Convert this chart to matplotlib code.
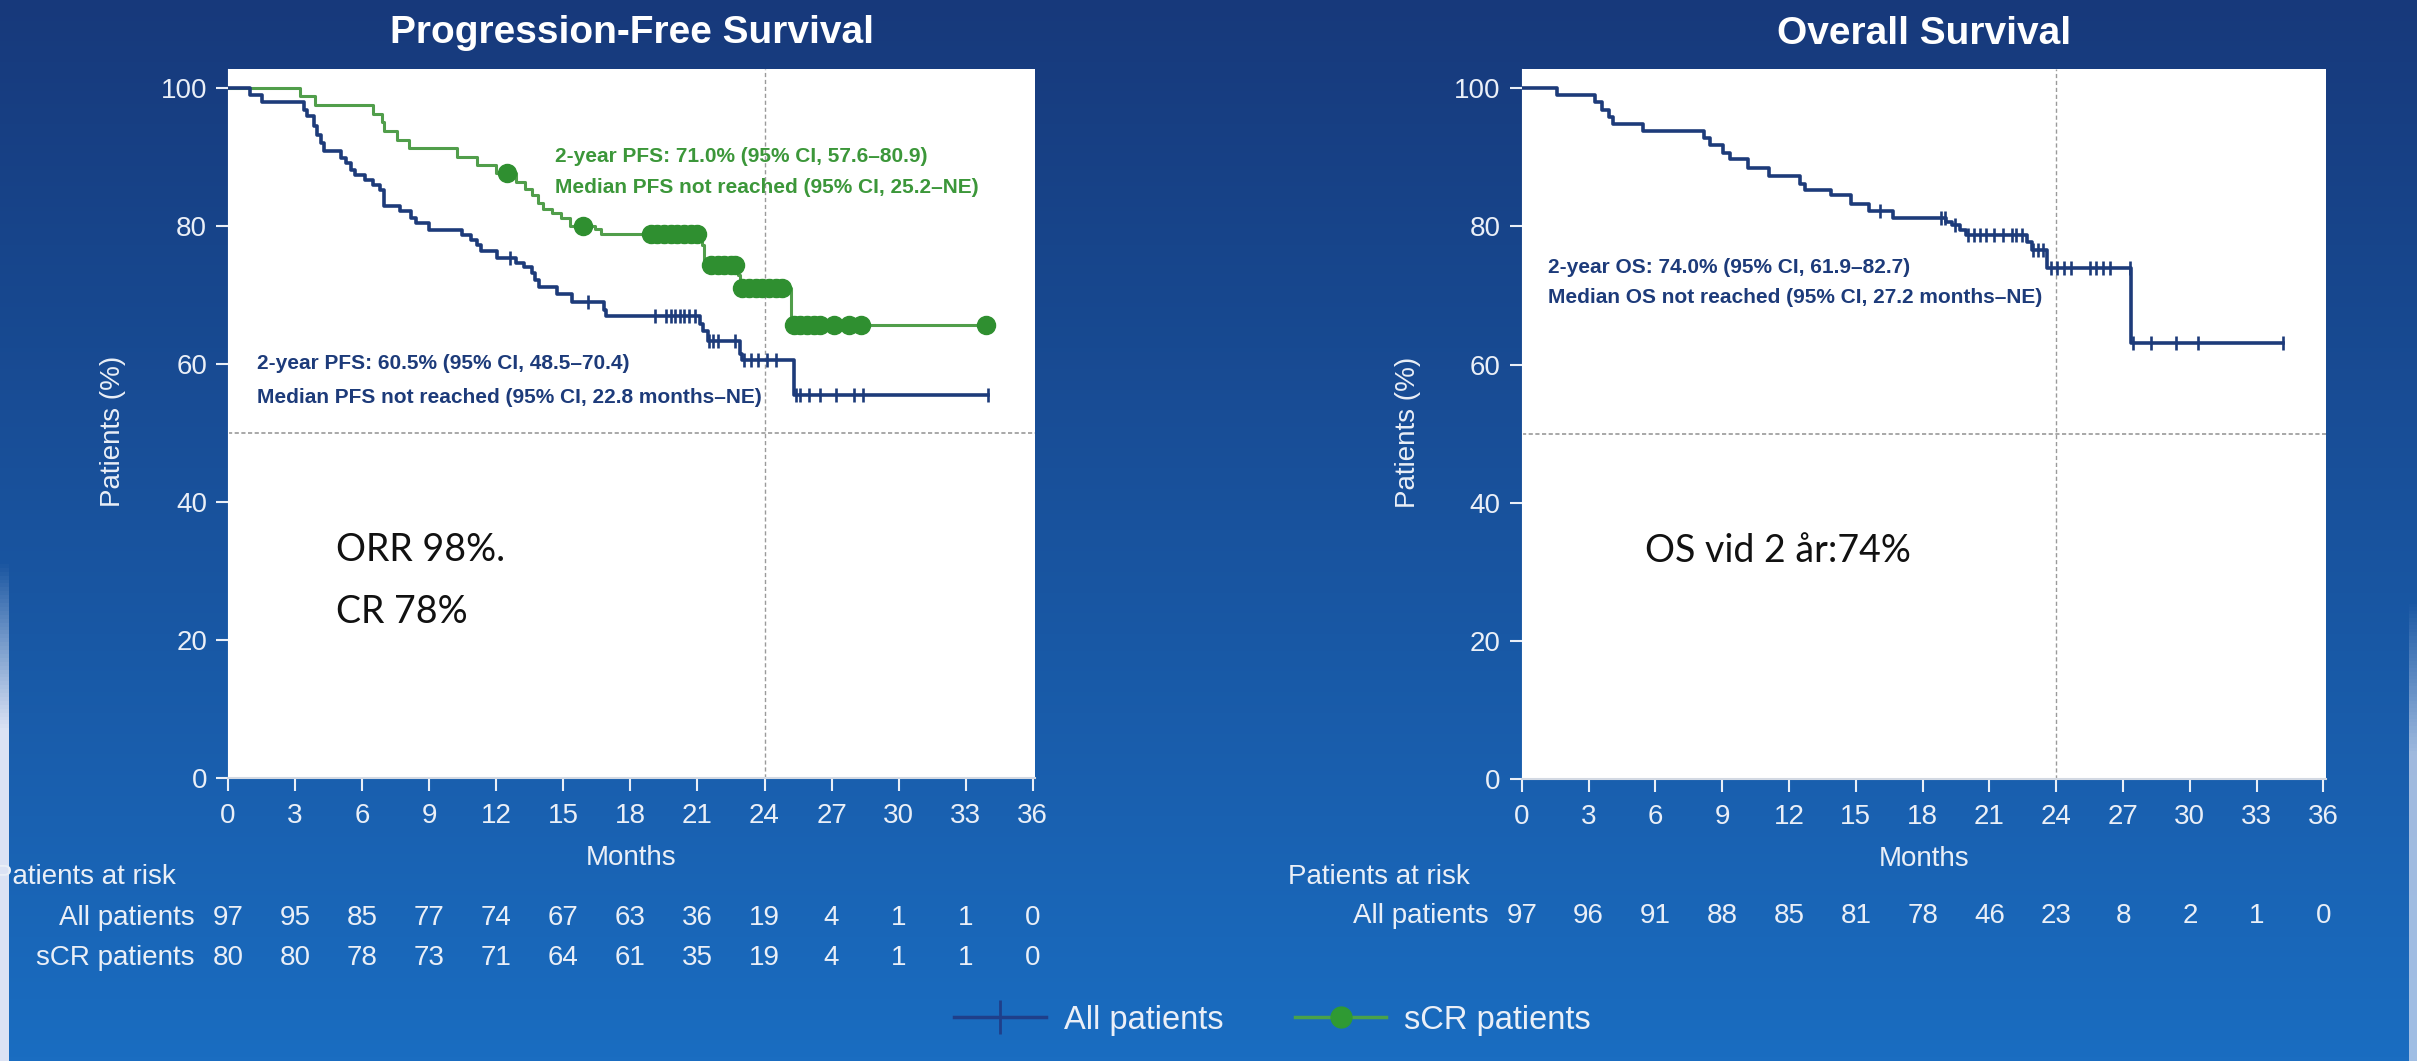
import numpy as np
import matplotlib
matplotlib.use("Agg")
import matplotlib.pyplot as plt
import matplotlib.transforms as mtransforms
from matplotlib.lines import Line2D

plt.rcParams['font.family'] = ['Liberation Sans', 'DejaVu Sans']

# ---- data ----
months_ticks = [0, 3, 6, 9, 12, 15, 18, 21, 24, 27, 30, 33, 36]
pct_ticks = [0, 20, 40, 60, 80, 100]

# PFS, all patients (step times in months, survival %)
pfs_all_t = [0, 1.0, 1.5, 3.4, 3.55, 3.85, 4.0, 4.15, 4.3, 5.05, 5.3, 5.5, 5.7, 6.15,
             6.5, 6.8, 7.0, 7.7, 8.2, 8.4, 9.0, 10.45, 10.85, 11.15, 11.3, 12.05, 12.9,
             13.25, 13.6, 13.75, 13.9, 14.7, 15.4, 16.8, 16.9, 21.1, 21.25, 21.45, 22.9,
             23.0, 25.3]
pfs_all_s = [100, 99.0, 97.9, 96.8, 95.9, 94.4, 93.2, 92.0, 90.8, 89.8, 89.1, 88.1, 87.4,
             86.7, 85.9, 85.2, 82.9, 82.2, 81.2, 80.4, 79.4, 78.7, 78.0, 77.2, 76.4, 75.4,
             74.6, 74.1, 73.1, 72.2, 71.2, 70.1, 69.0, 67.8, 66.9, 65.8, 64.7, 63.3, 61.5,
             60.5, 55.5]
pfs_all_end = 34.0
pfs_all_cens = [12.6, 16.1, 19.1, 19.6, 19.8, 20.0, 20.2, 20.4, 20.6, 20.9, 21.5, 21.7,
                21.9, 22.7, 23.1, 23.4, 23.7, 24.1, 24.5, 25.4, 25.6, 26.0, 26.5, 27.2,
                28.0, 28.4, 34.0]

# PFS, sCR patients
pfs_scr_t = [0, 3.2, 3.9, 6.5, 6.9, 7.0, 7.55, 8.1, 10.25, 11.15, 12.0, 12.9, 13.3, 13.6,
             13.85, 14.1, 14.5, 14.9, 15.3, 16.4, 16.7, 21.2, 21.3, 22.8, 22.9, 25.2]
pfs_scr_s = [100, 98.75, 97.5, 96.25, 95.0, 93.75, 92.5, 91.25, 90.0, 88.75, 87.6, 86.4,
             85.3, 84.5, 83.3, 82.4, 81.8, 81.2, 80.0, 79.5, 78.8, 77.2, 74.3, 72.9, 71.0,
             65.7]
pfs_scr_end = 33.9
pfs_scr_cens = [12.5, 15.9, 18.9, 19.2, 19.5, 19.8, 20.1, 20.4, 20.7, 21.0, 21.6, 21.9,
                22.2, 22.5, 22.7, 23.0, 23.3, 23.6, 23.9, 24.2, 24.5, 24.8, 25.3, 25.6,
                25.9, 26.2, 26.5, 27.1, 27.8, 28.3, 33.9]

# OS, all patients
os_t = [0, 1.57, 3.3, 3.6, 3.9, 4.1, 5.46, 8.2, 8.45, 9.05, 9.35, 10.15, 11.1, 12.5, 12.7,
        13.9, 14.8, 15.6, 16.67, 19.07, 19.3, 19.66, 19.95, 22.7, 22.9, 23.6, 27.37]
os_s = [100, 99.0, 98.0, 96.9, 95.9, 94.8, 93.8, 92.8, 91.8, 90.7, 89.8, 88.5, 87.3, 86.1,
        85.3, 84.5, 83.2, 82.2, 81.2, 80.7, 80.2, 79.5, 78.8, 77.8, 76.6, 74.0, 63.2]
os_end = 34.17
os_cens = [16.1, 18.84, 18.99, 19.44, 20.04, 20.3, 20.6, 20.85, 21.2, 21.6, 22.0, 22.2,
           22.45, 22.95, 23.2, 23.4, 23.75, 24.05, 24.35, 24.65, 25.5, 25.8, 26.1, 26.4,
           27.3, 27.44, 28.26, 29.39, 30.35, 34.17]

# patients at risk
risk_pfs_all = [97, 95, 85, 77, 74, 67, 63, 36, 19, 4, 1, 1, 0]
risk_pfs_scr = [80, 80, 78, 73, 71, 64, 61, 35, 19, 4, 1, 1, 0]
risk_os_all = [97, 96, 91, 88, 85, 81, 78, 46, 23, 8, 2, 1, 0]

BLUE = '#1d3b7a'
GREEN_LINE = '#519e4b'
GREEN_DOT = '#2f8f30'
TXT = '#eaeff7'

W, H = 2417, 1061
fig = plt.figure(figsize=(W / 100, H / 100), dpi=100)

# background gradient
bg = fig.add_axes([0, 0, 1, 1], zorder=-10)
grad = np.linspace(0, 1, 256)[:, None]
top = np.array([0x17, 0x39, 0x7b]) / 255
bot = np.array([0x1a, 0x6d, 0xc1]) / 255
img = top[None, None, :] * (1 - grad[:, :, None]) + bot[None, None, :] * grad[:, :, None]
bg.imshow(img, aspect='auto', extent=[0, W, H, 0])
# pale strips at the slide edges
strip = np.linspace(0, 1, 128)[:, None]
pale = np.ones((128, 1, 4))
pale[..., 0] = 0.86
pale[..., 1] = 0.89
pale[..., 2] = 0.96
pale[..., 3] = np.clip(strip * 3, 0, 1)
bg.imshow(pale, aspect='auto', extent=[0, 9, H, 560])
bg.imshow(pale * np.array([1, 1, 1, 0.7]), aspect='auto', extent=[W - 8, W, H, 600])
bg.set_xlim(0, W)
bg.set_ylim(H, 0)
bg.axis('off')


def km(ax, t, s, end, cens, color, lw, marker, ms, mfc, mew):
    tt = list(t) + [end]
    ss = list(s) + [s[-1]]
    ax.step(tt, ss, where='post', color=color, lw=lw, zorder=3)
    idx = np.searchsorted(t, cens, side='right') - 1
    cy = np.array(s)[idx]
    ax.plot(cens, cy, linestyle='none', marker=marker, ms=ms, mfc=mfc, mec=mfc,
            mew=mew, zorder=4)


def style(ax, title):
    ax.set_facecolor('white')
    ax.set_xlim(0, 36.1)
    ax.set_ylim(0, 102.8)
    ax.set_xticks(months_ticks)
    ax.set_yticks(pct_ticks)
    ax.tick_params(colors=TXT, labelsize=20, length=9, width=1.5, pad=6)
    ax.tick_params(axis='x', pad=9)
    for sp in ['top', 'right']:
        ax.spines[sp].set_visible(False)
    ax.spines['left'].set_color('white')
    ax.spines['bottom'].set_color('#d3d9e3')
    ax.spines['bottom'].set_linewidth(1.5)
    ax.axhline(50, color='#9a9a9a', lw=1.2, ls=(0, (2.5, 1.5)), zorder=1)
    ax.axvline(24, color='#9a9a9a', lw=1.0, ls=(0, (3, 2)), zorder=1)
    ax.text(0.5, 1.05, title, transform=ax.transAxes, ha='center', va='center',
            fontsize=28, fontweight='bold', color='white')
    ax.text(-0.142, 0.488, 'Patients (%)', transform=ax.transAxes, rotation=90,
            ha='center', va='center', fontsize=20, color=TXT)
    ax.text(0.5, -0.113, 'Months', transform=ax.transAxes, ha='center', va='center',
            fontsize=20, color=TXT)


ax1 = fig.add_axes([228 / W, 1 - 778 / H, 807 / W, 709.5 / H])
ax2 = fig.add_axes([1521.7 / W, 1 - 779 / H, 804 / W, 710 / H])
style(ax1, 'Progression-Free Survival')
style(ax2, 'Overall Survival')

km(ax1, pfs_scr_t, pfs_scr_s, pfs_scr_end, pfs_scr_cens, GREEN_LINE, 2.2, 'o', 13,
   GREEN_DOT, 1)
km(ax1, pfs_all_t, pfs_all_s, pfs_all_end, pfs_all_cens, BLUE, 2.6, '|', 10, BLUE, 1.9)
km(ax2, os_t, os_s, os_end, os_cens, BLUE, 2.6, '|', 10, BLUE, 1.9)

note = dict(fontsize=15, fontweight='bold', va='center', ha='left')
ax1.text(14.65, 90.0, '2-year PFS: 71.0% (95% CI, 57.6–80.9)', color='#3c973a', **note)
ax1.text(14.65, 85.5, 'Median PFS not reached (95% CI, 25.2–NE)', color='#3c973a', **note)
ax1.text(1.3, 60.0, '2-year PFS: 60.5% (95% CI, 48.5–70.4)', color=BLUE, **note)
ax1.text(1.3, 55.2, 'Median PFS not reached (95% CI, 22.8 months–NE)', color=BLUE, **note)
ax2.text(1.2, 74.0, '2-year OS: 74.0% (95% CI, 61.9–82.7)', color=BLUE, **note)
ax2.text(1.2, 69.7, 'Median OS not reached (95% CI, 27.2 months–NE)', color=BLUE, **note)

big = dict(fontsize=27, color='#111111', family=['Lato', 'DejaVu Sans'], va='center',
           ha='left')
ax1.text(4.85, 33.0, 'ORR 98%.', **big)
ax1.text(4.85, 24.0, 'CR 78%', **big)
ax2.text(5.55, 33.0, 'OS vid 2 år:74%', **big)

# patients at risk tables
for ax, rows in [(ax1, [('All patients', risk_pfs_all, 918), ('sCR patients', risk_pfs_scr, 958)]),
                 (ax2, [('All patients', risk_os_all, 916)])]:
    tr = mtransforms.blended_transform_factory(ax.transData, fig.transFigure)
    x_lab = (ax.get_position().x0 * W - 33) / W
    for name, vals, ypx in rows:
        fig.text(x_lab, 1 - ypx / H, name, ha='right', va='center', fontsize=20, color=TXT)
        for m, v in zip(months_ticks, vals):
            ax.text(m, 1 - ypx / H, str(v), transform=tr, ha='center', va='center',
                    fontsize=20, color=TXT, clip_on=False)
    fig.text((ax.get_position().x0 * W - 234) / W, 1 - 877 / H, 'Patients at risk',
             ha='left', va='center', fontsize=20, color=TXT)

handles = [Line2D([], [], color='#1f3f8a', lw=2.5, marker='|', ms=24, mew=2),
           Line2D([], [], color='#4aa24a', lw=2.5, marker='o', ms=15, mfc='#2f9a33',
                  mec='#2f9a33')]
leg = fig.legend(handles, ['All patients', 'sCR patients'], loc='center',
                 bbox_to_anchor=(0.5265, 1 - 1020 / H), ncol=2, frameon=False,
                 fontsize=23.5, handlelength=2.8, handletextpad=0.55, columnspacing=2.2)
for t in leg.get_texts():
    t.set_color(TXT)

fig.savefig('out.png', dpi=100)
